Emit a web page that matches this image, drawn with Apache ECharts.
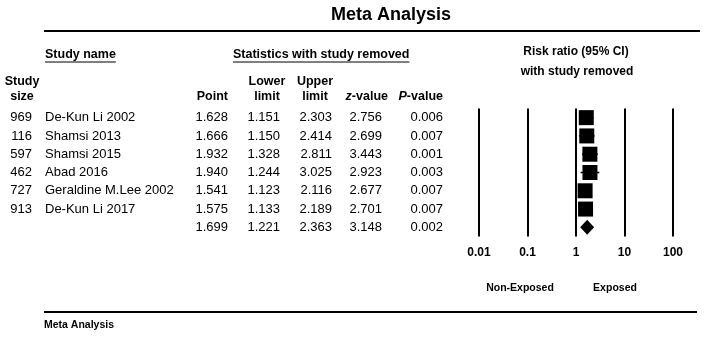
<!DOCTYPE html>
<html>
<head>
<meta charset="utf-8">
<script src="https://cdn.jsdelivr.net/npm/echarts@6/dist/echarts.min.js"></script>
<style>html,body{margin:0;padding:0;background:#fff}#c{width:709px;height:339px}</style>
</head>
<body>
<div id="c"></div>
<script>
const studySizes = ['969','116','597','462','727','913',''];
const studyNames = ['De-Kun Li 2002','Shamsi 2013','Shamsi 2015','Abad 2016','Geraldine M.Lee 2002','De-Kun Li 2017',''];
const pointValues = [1.628,1.666,1.932,1.940,1.541,1.575,1.699];
const lowerLimits = [1.151,1.150,1.328,1.244,1.123,1.133,1.221];
const upperLimits = [2.303,2.414,2.811,3.025,2.116,2.189,2.363];
const zValues = ['2.756','2.699','3.443','2.923','2.677','2.701','3.148'];
const pValues = ['0.006','0.007','0.001','0.003','0.007','0.007','0.002'];
const tickLabels = ['0.01','0.1','1','10','100'];
const rowIdx = studyNames.map((_, i) => i);
const summaryRow = 6;

const FONT = '"Liberation Sans", Arial, sans-serif';
const chart = echarts.init(document.getElementById('c'), null, {renderer: 'canvas'});

const studyRows = rowIdx.filter(i => i !== summaryRow);

chart.setOption({
  animation: false,
  backgroundColor: '#fff',
  grid: {left: 479, right: 36, top: 108.5, bottom: 102.5, containLabel: false},
  xAxis: {
    type: 'log', logBase: 10, min: 0.01, max: 100, splitNumber: 4,
    axisLine: {show: false}, axisTick: {show: false},
    splitLine: {show: true, lineStyle: {color: '#000', width: 2}},
    axisLabel: {
      margin: 10, color: '#000', fontFamily: FONT, fontWeight: 'bold', fontSize: 12,
      formatter: v => { const k = Math.round(Math.log10(v)) + 2; return tickLabels[k] !== undefined ? tickLabels[k] : ''; }
    }
  },
  yAxis: {
    type: 'category', data: rowIdx, inverse: true,
    axisLine: {show: false}, axisTick: {show: false}, axisLabel: {show: false}, splitLine: {show: false}
  },
  series: [
    {
      type: 'custom', z: 2,
      data: studyRows.map(i => [lowerLimits[i], upperLimits[i], i]),
      renderItem: (params, api) => {
        const a = api.coord([api.value(0), api.value(2)]);
        const b = api.coord([api.value(1), api.value(2)]);
        return {type: 'line', shape: {x1: a[0], y1: a[1], x2: b[0], y2: b[1]}, style: {stroke: '#000', lineWidth: 1.5}};
      }
    },
    {
      type: 'scatter', z: 3, symbol: 'rect', symbolSize: 15,
      itemStyle: {color: '#000', opacity: 1},
      emphasis: {disabled: true},
      data: studyRows.map(i => [pointValues[i], i])
    },
    {
      type: 'custom', z: 3,
      data: [[lowerLimits[summaryRow], pointValues[summaryRow], upperLimits[summaryRow], summaryRow]],
      renderItem: (params, api) => {
        const l = api.coord([api.value(0), api.value(3)]);
        const p = api.coord([api.value(1), api.value(3)]);
        const u = api.coord([api.value(2), api.value(3)]);
        const h = 7.5;
        return {type: 'polygon', shape: {points: [[l[0], l[1]], [p[0], p[1] - h], [u[0], u[1]], [p[0], p[1] + h]]}, style: {fill: '#000'}};
      }
    }
  ]
});

const mctx = document.createElement('canvas').getContext('2d');
function textW(t, size, weight) { mctx.font = (weight || 'normal') + ' ' + size + 'px ' + FONT; return mctx.measureText(t).width; }

const g = [];
function txt(x, y, text, opt) {
  opt = opt || {};
  g.push({type: 'text', x: x, y: y, silent: true, style: {
    text: text, fill: '#000', font: (opt.weight || 'normal') + ' ' + (opt.size || 13) + 'px ' + FONT,
    textAlign: opt.align || 'left', textVerticalAlign: 'middle', rich: opt.rich
  }});
}
function hline(x1, x2, y, w) {
  g.push({type: 'line', silent: true, shape: {x1: x1, y1: y, x2: x2, y2: y}, style: {stroke: '#000', lineWidth: w}});
}

// title
txt(391, 15, 'Meta Analysis', {weight: 'bold', size: 18, align: 'center'});
hline(44, 700, 31, 2);
// group headers
const HS = 12.5;
txt(45, 55, 'Study name', {weight: 'bold', size: HS});
hline(45, 45 + textW('Study name', HS, 'bold'), 62, 1);
txt(233, 55, 'Statistics with study removed', {weight: 'bold', size: HS});
hline(233, 233 + textW('Statistics with study removed', HS, 'bold'), 62, 1);
txt(576, 52, 'Risk ratio (95% CI)', {weight: 'bold', size: 12, align: 'center'});
txt(577, 72, 'with study removed', {weight: 'bold', size: 12, align: 'center'});
// column headers
txt(22, 82, 'Study', {weight: 'bold', size: HS, align: 'center'});
txt(22, 97, 'size', {weight: 'bold', size: HS, align: 'center'});
txt(228, 97, 'Point', {weight: 'bold', size: HS, align: 'right'});
txt(267, 82, 'Lower', {weight: 'bold', size: HS, align: 'center'});
txt(267, 97, 'limit', {weight: 'bold', size: HS, align: 'center'});
txt(315, 82, 'Upper', {weight: 'bold', size: HS, align: 'center'});
txt(315, 97, 'limit', {weight: 'bold', size: HS, align: 'center'});
const ital = {it: {fontStyle: 'italic', fontWeight: 'bold', fontSize: HS, fontFamily: FONT, fill: '#000'}, n: {fontWeight: 'bold', fontSize: HS, fontFamily: FONT, fill: '#000'}};
txt(388, 97, '{it|z}{n|-value}', {weight: 'bold', size: HS, align: 'right', rich: ital});
txt(443, 97, '{it|P}{n|-value}', {weight: 'bold', size: HS, align: 'right', rich: ital});

// rows
rowIdx.forEach(i => {
  const y = chart.convertToPixel({yAxisIndex: 0}, i);
  if (studySizes[i]) txt(32, y, studySizes[i], {align: 'right'});
  if (studyNames[i]) txt(45, y, studyNames[i]);
  txt(228, y, pointValues[i].toFixed(3), {align: 'right'});
  txt(280, y, lowerLimits[i].toFixed(3), {align: 'right'});
  txt(332, y, upperLimits[i].toFixed(3), {align: 'right'});
  txt(382, y, zValues[i], {align: 'right'});
  txt(443, y, pValues[i], {align: 'right'});
});

// favours labels
txt(520, 288, 'Non-Exposed', {weight: 'bold', size: 10.5, align: 'center'});
txt(615, 288, 'Exposed', {weight: 'bold', size: 10.5, align: 'center'});
hline(44, 697, 312, 2);
txt(44, 325, 'Meta Analysis', {weight: 'bold', size: 10.5});

chart.setOption({graphic: {elements: g}});
</script>
</body>
</html>
